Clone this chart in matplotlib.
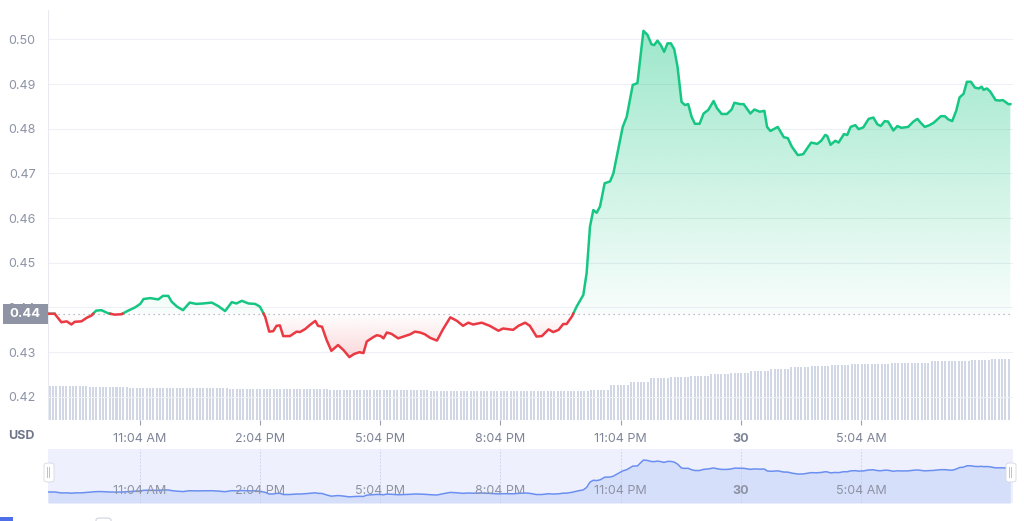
import numpy as np
import matplotlib
matplotlib.use("Agg")
import matplotlib.pyplot as plt
from matplotlib.patches import Rectangle, FancyBboxPatch, Polygon
from matplotlib.colors import to_rgb

plt.rcParams['font.family'] = ['Inter', 'DejaVu Sans']

# minutes after 8:47 AM on the 29th, and the price in USD
minutes = [0, 10, 20, 28, 35, 40, 50, 58, 65, 72, 80, 90, 100, 110, 120, 130, 138, 143,
           153, 165, 172, 180, 185, 193, 202, 212, 222, 232, 245, 255, 265, 275, 282, 290,
           300, 310, 317, 320, 325, 331, 337, 342, 347, 352, 362, 372, 377, 385, 392, 400,
           404, 410, 417, 424, 434, 442, 451, 458, 466, 472, 477, 486, 492, 498, 502, 507,
           514, 524, 534, 542, 549, 557, 564, 572, 582, 591, 602, 612, 621, 629, 636, 649,
           661, 674, 681, 696, 704, 714, 721, 731, 739, 749, 756, 764, 771, 776, 784, 791,
           801, 806, 811, 816, 821, 826, 833, 841, 846, 853, 860, 866, 875, 882, 891, 897,
           903, 907, 912, 917, 922, 927, 932, 937, 942, 948, 953, 958, 963, 968, 975, 981,
           988, 996, 1001, 1008, 1016, 1023, 1027, 1036, 1041, 1051, 1057, 1065, 1072, 1076,
           1081, 1092, 1101, 1107, 1113, 1122, 1130, 1136, 1142, 1151, 1157, 1163, 1166,
           1171, 1178, 1183, 1191, 1196, 1201, 1208, 1213, 1220, 1228, 1235, 1241, 1246,
           1252, 1257, 1265, 1271, 1277, 1287, 1295, 1301, 1306, 1312, 1319, 1325, 1331,
           1336, 1342, 1347, 1353, 1359, 1364, 1370, 1375, 1381, 1387, 1393, 1397, 1400,
           1405, 1410, 1418, 1424, 1429, 1437, 1440]
price = [0.4386, 0.4386, 0.4367, 0.4369, 0.4362, 0.4368, 0.4369, 0.4377, 0.4382, 0.4393,
         0.4394, 0.4387, 0.4384, 0.4385, 0.4393, 0.4400, 0.4408, 0.4419, 0.4421, 0.4418,
         0.4426, 0.4426, 0.4413, 0.4402, 0.4394, 0.4411, 0.4408, 0.4409, 0.4411, 0.4403,
         0.4392, 0.4412, 0.4409, 0.4415, 0.4409, 0.4408, 0.4402, 0.4394, 0.4379, 0.4346,
         0.4347, 0.4359, 0.4360, 0.4336, 0.4336, 0.4346, 0.4345, 0.4352, 0.4361, 0.4370,
         0.4359, 0.4357, 0.4327, 0.4303, 0.4316, 0.4305, 0.4289, 0.4296, 0.4300, 0.4298,
         0.4324, 0.4333, 0.4338, 0.4336, 0.4331, 0.4344, 0.4341, 0.4331, 0.4336, 0.4340,
         0.4346, 0.4344, 0.4340, 0.4332, 0.4326, 0.4351, 0.4378, 0.4370, 0.4359, 0.4366,
         0.4362, 0.4366, 0.4359, 0.4348, 0.4353, 0.4350, 0.4359, 0.4366, 0.4359, 0.4335,
         0.4336, 0.4351, 0.4345, 0.4350, 0.4363, 0.4363, 0.4380, 0.4402, 0.4428, 0.4477,
         0.4581, 0.4618, 0.4612, 0.4626, 0.4678, 0.4682, 0.4700, 0.4752, 0.4804, 0.4827,
         0.4898, 0.4902, 0.5019, 0.5010, 0.4989, 0.4987, 0.4997, 0.4987, 0.4972, 0.4991,
         0.4991, 0.4978, 0.4939, 0.4860, 0.4853, 0.4855, 0.4827, 0.4811, 0.4811, 0.4834,
         0.4842, 0.4862, 0.4846, 0.4833, 0.4833, 0.4843, 0.4858, 0.4855, 0.4855, 0.4834,
         0.4843, 0.4838, 0.4840, 0.4804, 0.4795, 0.4804, 0.4781, 0.4779, 0.4760, 0.4741,
         0.4743, 0.4756, 0.4769, 0.4766, 0.4773, 0.4786, 0.4784, 0.4764, 0.4773, 0.4769,
         0.4788, 0.4786, 0.4804, 0.4808, 0.4799, 0.4803, 0.4822, 0.4825, 0.4810, 0.4806,
         0.4817, 0.4816, 0.4796, 0.4806, 0.4802, 0.4804, 0.4816, 0.4822, 0.4813, 0.4804,
         0.4808, 0.4813, 0.4821, 0.4828, 0.4828, 0.4821, 0.4817, 0.4840, 0.4870, 0.4878,
         0.4905, 0.4905, 0.4892, 0.4890, 0.4894, 0.4887, 0.4890, 0.4883, 0.4864, 0.4863,
         0.4864, 0.4855, 0.4855]

# 24h volume (arbitrary units, read per half hour) - drawn as 5 min bars
volume_halfhour = [34.0, 34.0, 33.0, 33.0, 32.5, 32.5, 32.0, 32.0, 32.0, 31.5, 31.0, 31.0,
                   31.0, 31.0, 30.5, 30.5, 30.0, 30.0, 30.0, 29.5, 29.5, 29.5, 29.0, 29.0,
                   29.0, 29.0, 29.0, 30.0, 35.0, 38.0, 42.0, 43.5, 44.0, 46.0, 47.0, 49.0,
                   51.0, 53.0, 54.0, 55.0, 56.0, 56.5, 57.0, 57.5, 59.0, 59.5, 60.5, 61.0]

open_price = 0.4386
tick_minutes = [137, 317, 497, 677, 857, 1037, 1217]
tick_labels = ["11:04 AM", "2:04 PM", "5:04 PM", "8:04 PM", "11:04 PM", "30", "5:04 AM"]
y_ticks = [0.42, 0.43, 0.44, 0.45, 0.46, 0.47, 0.48, 0.49, 0.50]

GREEN = "#16c784"
RED = "#ea3943"
LABEL = "#8c93a6"

W, H = 1024, 521
fig = plt.figure(figsize=(W / 100, H / 100), dpi=100)


def fx(px):
    return px / W


def fy(px):
    return 1 - px / H


ax = fig.add_axes([fx(48), fy(420), fx(1013) - fx(48), fy(10) - fy(420)])
ax.set_xlim(0, 1444)
ax.set_ylim(0.41483, 0.50656)

# volume bars on their own axis
vax = ax.twinx()
vol = np.repeat(volume_halfhour, 6)
vt = np.arange(len(vol)) * 5 + 2.5
vax.bar(vt, vol, width=3.0, color="#d2d7e5", linewidth=0, zorder=1)
vax.set_ylim(0, 410)
vax.set_xlim(0, 1444)
vax.axis("off")
ax.set_zorder(vax.get_zorder() + 1)
ax.patch.set_visible(False)


# insert crossing points with the open price so colours switch cleanly
def split_at(x, y, ref):
    xs, ys = [x[0]], [y[0]]
    for i in range(1, len(x)):
        y0, y1 = y[i - 1], y[i]
        if (y0 - ref) * (y1 - ref) < 0:
            t = (ref - y0) / (y1 - y0)
            xs.append(x[i - 1] + t * (x[i] - x[i - 1]))
            ys.append(ref)
        xs.append(x[i])
        ys.append(y[i])
    return np.array(xs), np.array(ys)


t, p = split_at(np.array(minutes, float), np.array(price), open_price)

for yi in y_ticks:
    ax.axhline(yi, color="#eef0f5", lw=0.8, zorder=0)
ax.axvline(0, color="#e8eaf0", lw=0.8, zorder=0)


def grad_fill(lo, hi, a_lo, a_hi, color, ytop):
    rgb = to_rgb(color)
    n = 256
    alpha = np.linspace(a_lo, a_hi, n)[:, None]
    img = np.zeros((n, 1, 4))
    img[..., :3] = rgb
    img[..., 3] = alpha
    im = ax.imshow(img, aspect="auto", origin="lower", extent=[0, 1440, lo, hi],
                   zorder=2, interpolation="bilinear")
    verts = np.column_stack([np.r_[t, t[::-1]], np.r_[ytop, np.full(len(t), open_price)]])
    poly = Polygon(verts, closed=True, facecolor="none", edgecolor="none")
    ax.add_patch(poly)
    im.set_clip_path(poly)


grad_fill(open_price, max(price), 0.03, 0.42, GREEN, np.maximum(p, open_price))
grad_fill(min(price), open_price, 0.2, 0.0, RED, np.minimum(p, open_price))
ax.set_xlim(0, 1444)
ax.set_ylim(0.41483, 0.50656)

ax.axhline(open_price, color="#a3a9b8", lw=0.9, ls=(0, (1, 3)), zorder=3)
up = np.where(p >= open_price, p, np.nan)
dn = np.where(p <= open_price, p, np.nan)
ax.plot(t, up, color=GREEN, lw=1.8, zorder=4, solid_joinstyle="round")
ax.plot(t, dn, color=RED, lw=1.8, zorder=4, solid_joinstyle="round")

ax.set_yticks(y_ticks)
ax.set_yticklabels([f"{v:.2f}" for v in y_ticks])
ax.set_xticks(tick_minutes)
ax.set_xticklabels(tick_labels)
ax.tick_params(axis="y", length=0, pad=9, labelsize=9, labelcolor=LABEL)
ax.tick_params(axis="x", length=3.5, width=0.8, color="#9aa0b0", pad=6, labelsize=9,
               labelcolor="#7d8497")
for lab in ax.get_xticklabels():
    if lab.get_text() == "30":
        lab.set_fontweight("bold")
for s in ax.spines.values():
    s.set_visible(False)

fig.text(fx(8), fy(436), "USD", fontsize=9, fontweight="bold", color="#6f7689", va="center")

# current price badge on the y axis
fig.patches.append(Rectangle((fx(3), fy(324)), fx(45) - fx(0), fy(304) - fy(324),
                             transform=fig.transFigure, facecolor="#8e94a4", edgecolor="none",
                             zorder=5))
fig.text(fx(25), fy(314), "0.44", color="white", fontsize=9.5, fontweight="bold",
         ha="center", va="center", zorder=6)

# navigator
nav = fig.add_axes([fx(48), fy(503), fx(1013) - fx(48), fy(449) - fy(503)])
nav.set_facecolor("#eef1fd")
nav.set_xlim(0, 1444)
nav.set_ylim(0.4168, 0.5237)
nav.fill_between(minutes, price, 0.4168, color="#d6dffa", lw=0, zorder=1)
nav.plot(minutes, price, color="#6a8ff0", lw=1.1, zorder=3)
for tm, lb in zip(tick_minutes, tick_labels):
    nav.axvline(tm, color="#c5cce6", lw=0.6, ls=(0, (2, 2)), zorder=2)
    nav.text(tm, 0.4168 + 0.0237, lb, ha="center", va="center", fontsize=9,
             color="#8d93a3", fontweight="bold" if lb == "30" else "normal", zorder=4)
nav.set_xticks([])
nav.set_yticks([])
for s in nav.spines.values():
    s.set_visible(False)

for x0 in (44, 1006):
    fig.patches.append(FancyBboxPatch((fx(x0), fy(482)), fx(10), fy(463) - fy(482),
                                      boxstyle="round,pad=0,rounding_size=0.004",
                                      transform=fig.transFigure, facecolor="white",
                                      edgecolor="#d5d9e3", lw=0.6, zorder=5))
    fig.text(fx(x0 + 5), fy(472.5), "||", fontsize=6, color="#9aa0b0", ha="center",
             va="center", zorder=6)

# cut-off controls at the bottom edge
fig.patches.append(Rectangle((fx(0), fy(521)), fx(13), fy(517) - fy(521),
                             transform=fig.transFigure, facecolor="#4f6fe8", edgecolor="none"))
fig.patches.append(FancyBboxPatch((fx(96), fy(523)), fx(15), fy(518) - fy(523),
                                  boxstyle="round,pad=0,rounding_size=0.004",
                                  transform=fig.transFigure, facecolor="white",
                                  edgecolor="#cfd3dd", lw=0.8))

fig.savefig("out.png", dpi=100)
